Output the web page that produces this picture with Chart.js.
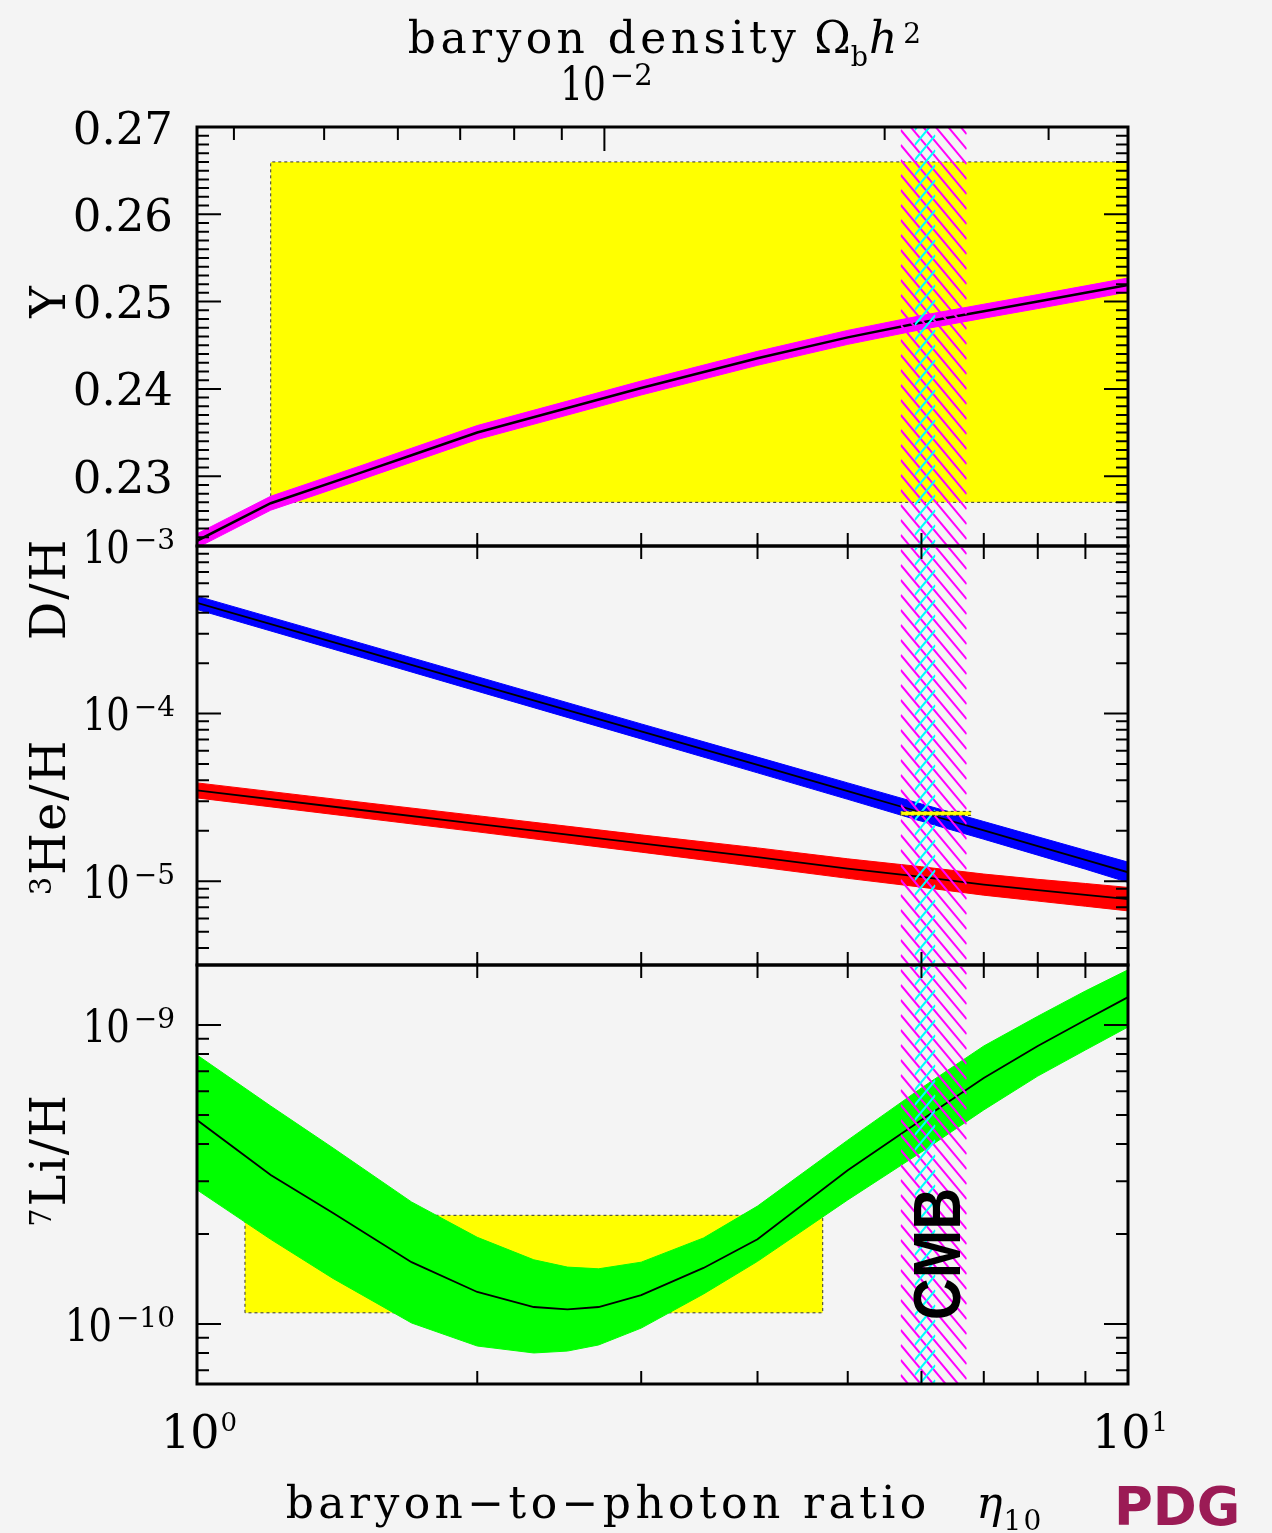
<!DOCTYPE html>
<html><head><meta charset="utf-8">
<script src="https://cdn.jsdelivr.net/npm/chart.js@4.4.1/dist/chart.umd.min.js"></script>
<style>
html,body{margin:0;padding:0;background:#f4f4f4;}
#wrap{position:relative;width:1272px;height:1533px;background:#f4f4f4;overflow:hidden;}
#wrap canvas{position:absolute;left:0;top:0;}
</style></head><body>
<div id="wrap">
<canvas id="cY" width="1272" height="1533"></canvas>
<canvas id="cD" width="1272" height="1533"></canvas>
<canvas id="cLi" width="1272" height="1533"></canvas>
</div>
<script>
// ---------------- DATA ----------------
// axis ranges
const ETA_RANGE = [1, 10];
const Y_RANGE = [0.222, 0.27];
const DH_RANGE = [3.162e-6, 1e-3];
const LI_RANGE = [6.30e-11, 1.588e-9];

// 4He mass fraction Y vs eta10
const etaY   = [1, 1.2, 1.5, 1.7, 2, 2.5, 3, 4, 5, 6, 7, 8, 9, 10];
const yHe4   = [0.2226,0.2269,0.2304,0.2324,0.2350,0.2378,0.2401,0.2435,0.2459,0.2476,0.2489,0.2500,0.2510,0.2519];
const yHe4Hi = [0.2234,0.2277,0.2312,0.2332,0.2358,0.2386,0.2409,0.2443,0.2467,0.2484,0.2497,0.2508,0.2518,0.2527];
const yHe4Lo = [0.2218,0.2261,0.2296,0.2316,0.2342,0.2370,0.2393,0.2427,0.2451,0.2468,0.2481,0.2492,0.2502,0.2511];

// D/H and 3He/H vs eta10
const etaDH  = [1, 1.5, 2, 3, 4, 5, 6, 7, 8, 9, 10];
const dh     = [4.58e-4, 2.39e-4, 1.50e-4, 7.83e-5, 4.94e-5, 3.45e-5, 2.57e-5, 2.01e-5, 1.62e-5, 1.34e-5, 1.13e-5];
const dhHi   = [5.02e-4, 2.63e-4, 1.66e-4, 8.68e-5, 5.50e-5, 3.86e-5, 2.89e-5, 2.27e-5, 1.84e-5, 1.53e-5, 1.30e-5];
const dhLo   = [4.18e-4, 2.17e-4, 1.36e-4, 7.06e-5, 4.43e-5, 3.08e-5, 2.28e-5, 1.78e-5, 1.43e-5, 1.18e-5, 0.984e-5];
const he3    = [3.48e-5, 2.66e-5, 2.20e-5, 1.68e-5, 1.39e-5, 1.19e-5, 1.06e-5, 9.54e-6, 8.84e-6, 8.29e-6, 7.81e-6];
const he3Hi  = [3.86e-5, 2.96e-5, 2.46e-5, 1.89e-5, 1.58e-5, 1.36e-5, 1.22e-5, 1.103e-5, 1.026e-5, 9.69e-6, 9.18e-6];
const he3Lo  = [3.14e-5, 2.39e-5, 1.97e-5, 1.49e-5, 1.22e-5, 1.04e-5, 0.921e-5, 8.25e-6, 7.61e-6, 7.09e-6, 6.65e-6];

// 7Li/H vs eta10
const etaLi  = [1, 1.2, 1.4, 1.7, 2, 2.3, 2.5, 2.7, 3, 3.5, 4, 5, 6, 7, 8, 9, 10];
const li     = [4.81e-10, 3.15e-10, 2.35e-10, 1.61e-10, 1.28e-10, 1.14e-10, 1.12e-10, 1.14e-10, 1.25e-10, 1.54e-10, 1.92e-10, 3.27e-10, 4.81e-10, 6.65e-10, 8.51e-10, 1.04e-9, 1.24e-9];
const liHi   = [7.94e-10, 5.36e-10, 3.88e-10, 2.56e-10, 1.95e-10, 1.64e-10, 1.55e-10, 1.53e-10, 1.61e-10, 1.94e-10, 2.48e-10, 4.12e-10, 6.16e-10, 8.51e-10, 1.07e-9, 1.30e-9, 1.53e-9];
const liLo   = [2.81e-10, 1.92e-10, 1.42e-10, 1.008e-10, 8.44e-11, 8.0e-11, 8.12e-11, 8.51e-11, 9.69e-11, 1.26e-10, 1.62e-10, 2.60e-10, 3.76e-10, 5.20e-10, 6.75e-10, 8.25e-10, 9.85e-10];

// observational boxes [etaMin, etaMax], [valueMin, valueMax]
const boxYEta  = [1.2, 10];     const boxYVal  = [0.227, 0.266];
const boxDEta  = [5.70, 6.78];  const boxDVal  = [2.47e-5, 2.61e-5];
const boxLiEta = [1.126, 4.70]; const boxLiVal = [1.09e-10, 2.31e-10];

// CMB bands in eta10
const cmbOuter = [5.70, 6.71];
const cmbInner = [5.90, 6.21];

// tick labels
const yTickValues = [0.23, 0.24, 0.25, 0.26, 0.27];
const yTickLabels = ['0.23', '0.24', '0.25', '0.26', '0.27'];
const dhTickValues = [1e-3, 1e-4, 1e-5];
const dhTickExp = ['\u22123', '\u22124', '\u22125'];
const liTickValues = [1e-9, 1e-10];
const liTickExp = ['\u22129', '\u221210'];
const etaMinorTicks = [2, 3, 4, 5, 6, 7, 8, 9];
const etaLabelValues = [1, 10];
const etaLabelExp = ['0', '1'];
const omegaTicks = [0.004, 0.005, 0.006, 0.007, 0.008, 0.009, 0.01, 0.02, 0.03];
const omegaLabelValue = 0.01; const omegaLabelExp = '\u22122';
const ETA_PER_OMEGA = 273.9;   // eta10 = 273.9 * Omega_b h^2

// ---------------- HELPERS ----------------
const SERIF = '"DejaVu Serif", serif';
function pts(xs, ys){ return xs.map((x, i) => ({x: x, y: ys[i]})); }
function boxPts(ex, vv){ return [{x:ex[0],y:vv[0]},{x:ex[0],y:vv[1]},{x:ex[1],y:vv[1]},{x:ex[1],y:vv[0]},{x:ex[0],y:vv[0]}]; }
function bandSets(xs, lo, hi, color, order){
  return [
    {data: pts(xs, hi), fill: '+1', backgroundColor: color, borderColor: color, borderWidth: 1, order: order},
    {data: pts(xs, lo), fill: false, borderColor: color, borderWidth: 1, order: order}
  ];
}
function lineSet(xs, ys, w, order, extra){ return Object.assign({data: pts(xs, ys), fill: false, borderColor: '#000', borderWidth: w, order: order}, extra || {}); }
function boxSet(ex, vv, order){
  return {data: boxPts(ex, vv), fill: 'shape', backgroundColor: '#ffff00', borderColor: '#333', borderWidth: 1, borderDash: [3, 3], order: order};
}

function runW(ctx, r){
  ctx.font = r.font;
  let w;
  if (r.ls){ w = 0; for (const ch of r.t) w += ctx.measureText(ch).width + r.ls; w -= r.ls; }
  else w = ctx.measureText(r.t).width;
  return w * (r.sx || 1);
}
function drawRuns(ctx, runs, x, y, align){
  let total = 0;
  runs.forEach((r, i) => { total += runW(ctx, r) + (i < runs.length - 1 ? (r.gap || 0) : 0); });
  let cx = align === 'center' ? x - total / 2 : align === 'right' ? x - total : x;
  ctx.textAlign = 'left'; ctx.textBaseline = 'alphabetic';
  for (const r of runs){
    const w = runW(ctx, r);
    ctx.font = r.font; ctx.fillStyle = r.color || '#000';
    ctx.save(); ctx.translate(cx, y + (r.dy || 0)); ctx.scale(r.sx || 1, 1);
    if (r.ls){ let px = 0; for (const ch of r.t){ ctx.fillText(ch, px, 0); px += ctx.measureText(ch).width + r.ls; } }
    else ctx.fillText(r.t, 0, 0);
    ctx.restore();
    cx += w + (r.gap || 0);
  }
}
function drawRotated(ctx, runs, x, y){
  ctx.save(); ctx.translate(x, y); ctx.rotate(-Math.PI / 2); drawRuns(ctx, runs, 0, 0, 'center'); ctx.restore();
}
function powLabelY(ctx, exp, xr, py){
  drawRuns(ctx, [{t: '10', font: '45px ' + SERIF, sx: 0.82, gap: 4}, {t: exp, font: '28px ' + SERIF, dy: -14}], xr, py + 16.5, 'right');
}

function logTickList(min, max){
  const out = [];
  for (let d = Math.floor(Math.log10(min)); d <= Math.ceil(Math.log10(max)); d++){
    for (let m = 1; m <= 9; m++){
      const v = m * Math.pow(10, d);
      if (v >= min * 0.999 && v <= max * 1.001) out.push({v: v, major: m === 1});
    }
  }
  return out;
}
function linTickList(){
  const out = [];
  for (let k = 223; k <= 269; k++) out.push({v: k / 1000, major: k % 10 === 0});
  return out;
}

function drawHatch(chart){
  const {ctx, chartArea: a, scales: {x}} = chart;
  const x1 = x.getPixelForValue(cmbOuter[0]), x2 = x.getPixelForValue(cmbOuter[1]);
  const c1 = x.getPixelForValue(cmbInner[0]), c2 = x.getPixelForValue(cmbInner[1]);
  const s = 1.2, sp = 15;
  ctx.save();
  ctx.beginPath(); ctx.rect(x1, a.top, x2 - x1, a.bottom - a.top); ctx.clip();
  ctx.strokeStyle = '#ff00ff'; ctx.lineWidth = 2;
  ctx.beginPath();
  for (let c = -200; c < 1700; c += sp){ ctx.moveTo(x1, c); ctx.lineTo(x2, c + s * (x2 - x1)); }
  ctx.stroke();
  ctx.restore();
  ctx.save();
  ctx.beginPath(); ctx.rect(c1, a.top, c2 - c1, a.bottom - a.top); ctx.clip();
  ctx.strokeStyle = '#00ffff'; ctx.lineWidth = 2;
  ctx.beginPath();
  for (let c = -200; c < 1800; c += sp){ ctx.moveTo(c1, c); ctx.lineTo(c2, c - s * (c2 - c1)); }
  ctx.stroke();
  ctx.restore();
}

function drawFrameTicks(chart, yList, topVals, topMajor){
  const {ctx, chartArea: a, scales: {x, y}} = chart;
  ctx.save();
  ctx.strokeStyle = '#000';
  ctx.lineWidth = 2;
  ctx.beginPath();
  for (const t of yList){
    const py = y.getPixelForValue(t.v);
    const L = t.major ? 24 : 12;
    ctx.moveTo(a.left, py); ctx.lineTo(a.left + L, py);
    ctx.moveTo(a.right, py); ctx.lineTo(a.right - L, py);
  }
  for (const v of etaMinorTicks){
    const px = x.getPixelForValue(v);
    ctx.moveTo(px, a.bottom); ctx.lineTo(px, a.bottom - 13);
  }
  topVals.forEach((v, i) => {
    const px = x.getPixelForValue(v);
    const L = topMajor && topMajor[i] ? 24 : 13;
    ctx.moveTo(px, a.top); ctx.lineTo(px, a.top + L);
  });
  ctx.stroke();
  ctx.lineWidth = 3;
  ctx.strokeRect(a.left, a.top, a.right - a.left, a.bottom - a.top);
  ctx.restore();
}

function makeDecor(panel){
  return {
    id: 'pdgDecor' + panel,
    afterDatasetDraw(chart, args){
      const ds = chart.data.datasets[args.index];
      if (ds.hatchAfter) drawHatch(chart);
    },
    afterDatasetsDraw(chart){
      const ctx = chart.ctx;
      if (panel !== 'DH') drawHatch(chart);
      if (panel === 'Li'){
        ctx.save(); ctx.fillStyle = '#000';
        drawRotated(ctx, [{t: 'CMB', font: 'bold 66px "Liberation Sans", "DejaVu Sans", sans-serif', sx: 0.88}], 960, 1254);
        ctx.restore();
      }
    },
    afterDraw(chart){
      const {ctx, chartArea: a, scales: {x, y}} = chart;
      ctx.save();
      if (panel === 'Y'){
        drawFrameTicks(chart, linTickList(), omegaTicks.map(o => o * ETA_PER_OMEGA), omegaTicks.map(o => o === omegaLabelValue));
        yTickValues.forEach((v, i) => {
          drawRuns(ctx, [{t: yTickLabels[i], font: '45px ' + SERIF}], 173, y.getPixelForValue(v) + 16.5, 'right');
        });
        // top axis label
        drawRuns(ctx, [{t: '10', font: '46px ' + SERIF, sx: 0.78, gap: 4}, {t: omegaLabelExp, font: '29px ' + SERIF, dy: -15}],
          x.getPixelForValue(omegaLabelValue * ETA_PER_OMEGA) + 2, 100, 'center');
        // title
        drawRuns(ctx, [
          {t: 'baryon density ', font: '44px ' + SERIF, ls: 4.4},
          {t: '\u03A9', font: '44px ' + SERIF},
          {t: 'b', font: '27px ' + SERIF, dy: 13, gap: 1},
          {t: 'h', font: 'italic 44px ' + SERIF, gap: 6},
          {t: '2', font: '28px ' + SERIF, dy: -10}
        ], (a.left + a.right) / 2 + 2, 53, 'center');
        drawRotated(ctx, [{t: 'Y', font: '48px ' + SERIF}], 65, 302);
      } else if (panel === 'DH'){
        drawFrameTicks(chart, logTickList(DH_RANGE[0], DH_RANGE[1]), etaMinorTicks);
        dhTickValues.forEach((v, i) => powLabelY(ctx, dhTickExp[i], 175, y.getPixelForValue(v)));
        drawRotated(ctx, [{t: 'D/H', font: '48px ' + SERIF, ls: 2}], 65, 590);
        drawRotated(ctx, [{t: '3', font: '29px ' + SERIF, dy: -14, gap: 2}, {t: 'He/H', font: '48px ' + SERIF, ls: 2}], 65, 818);
      } else {
        drawFrameTicks(chart, logTickList(LI_RANGE[0], LI_RANGE[1]), etaMinorTicks);
        liTickValues.forEach((v, i) => powLabelY(ctx, liTickExp[i], 175, y.getPixelForValue(v)));
        drawRotated(ctx, [{t: '7', font: '29px ' + SERIF, dy: -14, gap: 2}, {t: 'Li/H', font: '48px ' + SERIF, ls: 2}], 65, 1161);
        etaLabelValues.forEach((v, i) => {
          drawRuns(ctx, [{t: '10', font: '46px ' + SERIF, gap: 1}, {t: etaLabelExp[i], font: '26px ' + SERIF, dy: -17}],
            x.getPixelForValue(v) + 2, 1448, 'center');
        });
        drawRuns(ctx, [
          {t: 'baryon\u2212to\u2212photon ratio', font: '44px ' + SERIF, ls: 4.4, gap: 50},
          {t: '\u03B7', font: 'italic 44px ' + SERIF, gap: 1},
          {t: '10', font: '28px ' + SERIF, ls: 2, dy: 12}
        ], (a.left + a.right) / 2 + 1, 1518, 'center');
        ctx.fillStyle = '#9b1b55';
        ctx.font = 'bold 53px "DejaVu Sans", sans-serif';
        ctx.textAlign = 'left'; ctx.textBaseline = 'alphabetic';
        ctx.fillText('PDG', 1114, 1525);
      }
      ctx.restore();
    }
  };
}

function makeChart(id, panel, yType, yRange, pad, datasets){
  return new Chart(document.getElementById(id), {
    type: 'line',
    data: {datasets: datasets},
    options: {
      responsive: false, animation: false, devicePixelRatio: 1, events: [],
      layout: {padding: pad},
      elements: {line: {tension: 0}, point: {radius: 0}},
      datasets: {line: {clip: 0}},
      scales: {
        x: {type: 'logarithmic', min: ETA_RANGE[0], max: ETA_RANGE[1], display: false},
        y: {type: yType, min: yRange[0], max: yRange[1], display: false}
      },
      plugins: {legend: {display: false}, tooltip: {enabled: false}}
    },
    plugins: [makeDecor(panel)]
  });
}

// Panel geometry (page pixels): plot x 197..1128; panels 127..546, 546..965, 965..1384
makeChart('cY', 'Y', 'linear', Y_RANGE, {left: 197, right: 144, top: 127, bottom: 987}, [
  lineSet(etaY, yHe4, 2.5, 1),
  ...bandSets(etaY, yHe4Lo, yHe4Hi, '#ff00ff', 5),
  boxSet(boxYEta, boxYVal, 10)
]);

makeChart('cD', 'DH', 'logarithmic', DH_RANGE, {left: 197, right: 144, top: 546, bottom: 568}, [
  boxSet(boxDEta, boxDVal, 0),
  lineSet(etaDH, dh, 1.8, 1, {hatchAfter: true}),
  lineSet(etaDH, he3, 1.8, 2),
  ...bandSets(etaDH, dhLo, dhHi, '#0000ff', 5),
  ...bandSets(etaDH, he3Lo, he3Hi, '#ff0000', 6)
]);

makeChart('cLi', 'Li', 'logarithmic', LI_RANGE, {left: 197, right: 144, top: 965, bottom: 149}, [
  lineSet(etaLi, li, 1.8, 1),
  ...bandSets(etaLi, liLo, liHi, '#00ff00', 5),
  boxSet(boxLiEta, boxLiVal, 10)
]);
</script>
</body></html>
